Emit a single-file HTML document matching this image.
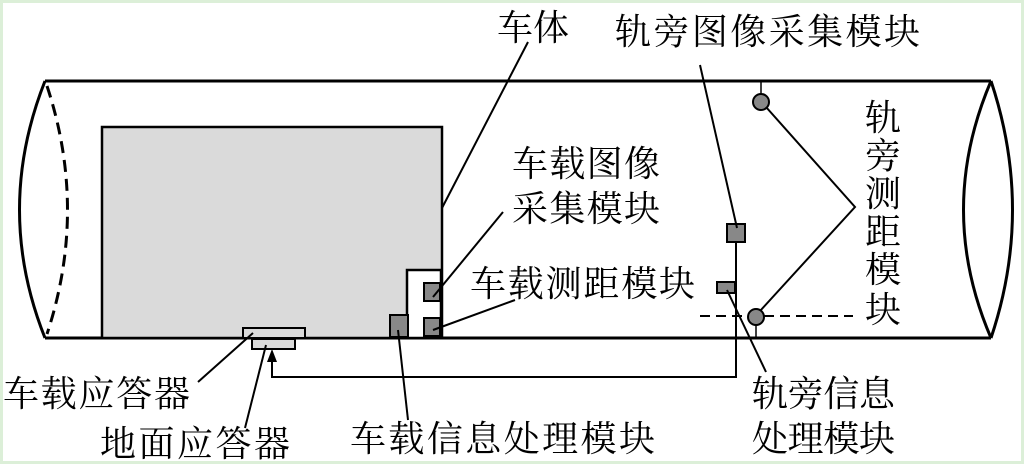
<!DOCTYPE html>
<html><head><meta charset="utf-8"><style>
html,body{margin:0;padding:0;background:#fff}
svg{display:block}
text{font-family:"Liberation Serif","Noto Serif CJK SC","Noto Sans CJK SC",serif;font-size:36px;fill:#000}
</style></head><body>
<svg width="1025" height="465" viewBox="0 0 1025 465" xmlns="http://www.w3.org/2000/svg">
<rect x="0" y="0" width="1025" height="465" fill="#fff"/>
<rect x="1.5" y="1.5" width="1021" height="461" fill="none" stroke="#dcefd8" stroke-width="3"/>
<!-- tube -->
<line x1="45" y1="81" x2="991" y2="81" stroke="#000" stroke-width="3"/>
<line x1="45" y1="338" x2="991" y2="338" stroke="#000" stroke-width="3"/>
<path d="M45,81 Q-6,210 45,338" fill="none" stroke="#000" stroke-width="3"/>
<path d="M47,86 Q88,210 47,334" fill="none" stroke="#000" stroke-width="3" stroke-dasharray="12,7"/>
<path d="M991,81 Q936,210 991,338" fill="none" stroke="#000" stroke-width="3"/>
<path d="M991,81 Q1034,210 991,338" fill="none" stroke="#000" stroke-width="3"/>
<!-- car body -->
<rect x="102" y="127" width="340" height="211" fill="#dadada" stroke="#000" stroke-width="2.5"/>
<rect x="407" y="270" width="34" height="68" fill="#fff" stroke="#000" stroke-width="2.5"/>
<rect x="424" y="283" width="16" height="18" fill="#888" stroke="#000" stroke-width="2"/>
<rect x="424" y="318" width="16" height="18" fill="#888" stroke="#000" stroke-width="2"/>
<rect x="390" y="315" width="18" height="22" fill="#888" stroke="#000" stroke-width="2"/>
<!-- transponders -->
<rect x="243" y="328" width="62" height="10" fill="#dadada" stroke="#000" stroke-width="2"/>
<rect x="252" y="339" width="43" height="10" fill="#dadada" stroke="#000" stroke-width="2"/>
<!-- wayside -->
<line x1="761" y1="81" x2="761" y2="95" stroke="#000" stroke-width="1.5"/>
<circle cx="761" cy="102" r="8" fill="#888" stroke="#000" stroke-width="2"/>
<polyline points="766,107 855,207 760,311" fill="none" stroke="#000" stroke-width="2"/>
<line x1="700" y1="316" x2="853" y2="316" stroke="#000" stroke-width="2" stroke-dasharray="10,6"/>
<circle cx="756" cy="317" r="8" fill="#888" stroke="#000" stroke-width="2"/>
<line x1="756" y1="325" x2="756" y2="338" stroke="#000" stroke-width="1.5"/>
<rect x="727" y="224" width="18" height="18" fill="#888" stroke="#000" stroke-width="2"/>
<rect x="717" y="282" width="18" height="11" fill="#888" stroke="#000" stroke-width="2"/>
<polyline points="736,242 736,377 272,377 272,356" fill="none" stroke="#000" stroke-width="2"/>
<polygon points="272,349 267,362 277,362" fill="#000"/>
<!-- leader lines -->
<line x1="700" y1="65" x2="737" y2="228" stroke="#000" stroke-width="2"/>
<line x1="727" y1="290" x2="766" y2="372" stroke="#000" stroke-width="2"/>
<line x1="528" y1="42" x2="442" y2="208" stroke="#000" stroke-width="2"/>
<line x1="503" y1="212" x2="433" y2="297" stroke="#000" stroke-width="2"/>
<line x1="515" y1="300" x2="433" y2="330" stroke="#000" stroke-width="2"/>
<line x1="398" y1="330" x2="408" y2="420" stroke="#000" stroke-width="2"/>
<line x1="253" y1="333" x2="198" y2="382" stroke="#000" stroke-width="2"/>
<line x1="266" y1="345" x2="245" y2="428" stroke="#000" stroke-width="2"/>
<!-- labels -->
<text x="497" y="40">车体</text>
<text x="615" y="44" textLength="305">轨旁图像采集模块</text>
<text x="512" y="176" textLength="148">车载图像</text>
<text x="512" y="221" textLength="148">采集模块</text>
<text x="470" y="296" textLength="225">车载测距模块</text>
<text x="865" y="130">轨</text>
<text x="865" y="168">旁</text>
<text x="865" y="206">测</text>
<text x="865" y="244">距</text>
<text x="865" y="282">模</text>
<text x="865" y="322">块</text>
<text x="3" y="406" textLength="187">车载应答器</text>
<text x="100" y="456" textLength="190">地面应答器</text>
<text x="350" y="451" textLength="305">车载信息处理模块</text>
<text x="752" y="406" textLength="143">轨旁信息</text>
<text x="752" y="451" textLength="143">处理模块</text>
</svg>
</body></html>
